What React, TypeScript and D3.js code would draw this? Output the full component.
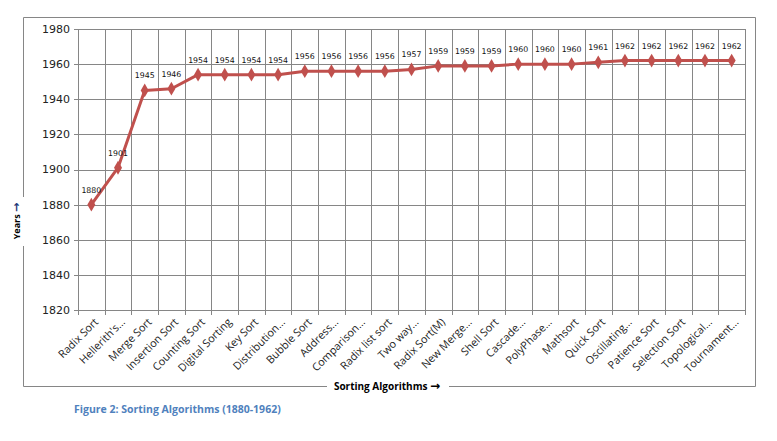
import React, { useEffect, useRef } from 'react';
import * as d3 from 'd3';

const algorithms = [
  'Radix Sort', "Hellerith's...", 'Merge Sort', 'Insertion Sort', 'Counting Sort',
  'Digital Sorting', 'Key Sort', 'Distribution...', 'Bubble Sort', 'Address...',
  'Comparison...', 'Radix list sort', 'Two way...', 'Radix Sort(M)', 'New Merge...',
  'Shell Sort', 'Cascade...', 'PolyPhase...', 'Mathsort', 'Quick Sort',
  'Oscillating...', 'Patience Sort', 'Selection Sort', 'Topological...', 'Tournament...',
];
const years = [
  1880, 1901, 1945, 1946, 1954, 1954, 1954, 1954, 1956, 1956, 1956, 1956, 1957,
  1959, 1959, 1959, 1960, 1960, 1960, 1961, 1962, 1962, 1962, 1962, 1962,
];
const yTicks = [1820, 1840, 1860, 1880, 1900, 1920, 1940, 1960, 1980];

export default function App() {
  const svgRef = useRef<SVGSVGElement>(null);

  useEffect(() => {
    if (!svgRef.current) return;
    const svg = d3.select(svgRef.current);
    svg.selectAll('*').remove();

    const left = 78, right = 745, top = 29, bottom = 310;
    const grid = '#868686';

    const x = d3.scaleBand<string>().domain(algorithms).range([left, right]);
    const y = d3.scaleLinear().domain([1820, 1980]).range([bottom, top]);

    // outer border with gaps for the axis titles
    const border = svg.append('g').attr('stroke', grid).attr('fill', 'none');
    border.append('path')
      .attr('d', `M23.5,197 V17.5 H755.5 V386.5 H449`);
    border.append('path').attr('d', `M327,386.5 H23.5 V246`);

    // horizontal gridlines
    svg.append('g').selectAll('line').data(yTicks).enter().append('line')
      .attr('x1', left - 4).attr('x2', right)
      .attr('y1', d => Math.round(y(d)) + 0.5).attr('y2', d => Math.round(y(d)) + 0.5)
      .attr('stroke', grid);

    // vertical gridlines at category boundaries
    const bounds = algorithms.map(a => x(a)!).concat([right]);
    svg.append('g').selectAll('line').data(bounds).enter().append('line')
      .attr('x1', d => Math.round(d) + 0.5).attr('x2', d => Math.round(d) + 0.5)
      .attr('y1', top).attr('y2', bottom + 5)
      .attr('stroke', grid);

    // y tick labels
    svg.append('g').selectAll('text').data(yTicks).enter().append('text')
      .attr('x', left - 8).attr('y', d => y(d)).attr('dy', '0.36em')
      .attr('text-anchor', 'end')
      .style('font-family', 'DejaVu Sans, sans-serif').style('font-size', '11px')
      .attr('fill', '#222')
      .text(d => d);

    // x tick labels
    svg.append('g').selectAll('text').data(algorithms).enter().append('text')
      .attr('transform', d => `translate(${x(d)! + x.bandwidth() / 2 + 5},${bottom + 10}) rotate(-45)`)
      .attr('text-anchor', 'end')
      .attr('dy', '0.35em')
      .style('font-family', 'Open Sans, sans-serif').style('font-size', '10.8px')
      .attr('fill', '#222')
      .text(d => d);

    const cx = (i: number) => x(algorithms[i])! + x.bandwidth() / 2;

    const line = d3.line<number>().x((_, i) => cx(i)).y(d => y(d));
    svg.append('path').datum(years)
      .attr('d', line)
      .attr('fill', 'none').attr('stroke', '#C0504D').attr('stroke-width', 3)
      .attr('stroke-linejoin', 'round');

    svg.append('g').selectAll('path').data(years).enter().append('path')
      .attr('d', d3.symbol().type(d3.symbolDiamond).size(55) as any)
      .attr('transform', (d, i) => `translate(${cx(i)},${y(d)})`)
      .attr('fill', '#C0504D');

    svg.append('g').selectAll('text').data(years).enter().append('text')
      .attr('x', (_, i) => cx(i)).attr('y', d => y(d) - 12)
      .attr('text-anchor', 'middle')
      .style('font-family', 'DejaVu Sans, sans-serif').style('font-size', '7.8px')
      .attr('fill', '#111')
      .text(d => d);

    // axis titles
    const yt = svg.append('text')
      .attr('transform', 'translate(20,221) rotate(-90)')
      .attr('text-anchor', 'middle')
      .style('font-family', 'Open Sans, sans-serif').style('font-size', '9px')
      .style('font-weight', 'bold');
    yt.append('tspan').text('Years ');
    yt.append('tspan').style('font-family', 'DejaVu Sans, sans-serif')
      .style('font-size', '11px').attr('fill', '#1F3A7A').text('→');

    const xt = svg.append('text')
      .attr('x', 387).attr('y', 390)
      .attr('text-anchor', 'middle')
      .style('font-family', 'Open Sans, sans-serif').style('font-size', '10px')
      .style('font-weight', 'bold');
    xt.append('tspan').text('Sorting Algorithms ');
    xt.append('tspan').style('font-family', 'DejaVu Sans, sans-serif')
      .style('font-size', '12px').text('→');

    svg.append('text')
      .attr('x', 74).attr('y', 413)
      .style('font-family', 'Open Sans, sans-serif').style('font-size', '10.5px')
      .style('font-weight', 'bold')
      .attr('fill', '#4F81BD')
      .text('Figure 2:  Sorting  Algorithms (1880-1962)');
  }, []);

  return (
    <svg ref={svgRef} width={777} height={441}
      style={{ position: 'absolute', left: 0, top: 0, background: '#fff' }} />
  );
}
